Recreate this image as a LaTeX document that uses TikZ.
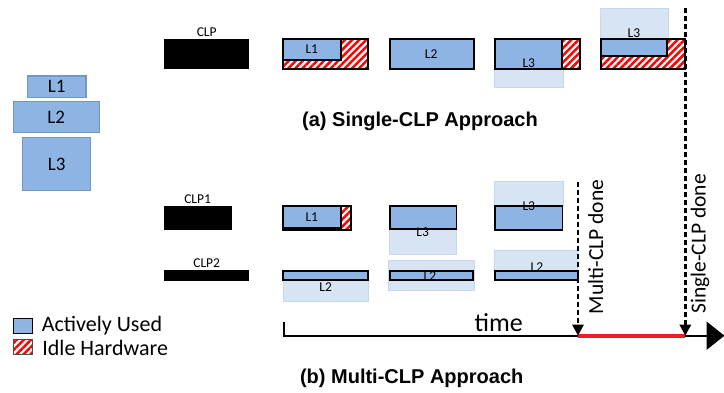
\documentclass[tikz,border=0pt]{standalone}
\usepackage{fontspec}
\setmainfont{Carlito}
\newfontfamily\titlefont{Liberation Sans}
\usetikzlibrary{arrows.meta,patterns.meta}
\definecolor{usedBlue}{HTML}{8DB4E2}
\definecolor{ghostBlue}{HTML}{D7E4F3}
\definecolor{ghostEdge}{HTML}{C6D8EE}
\definecolor{layerEdge}{HTML}{6F98C6}
\definecolor{gapRed}{HTML}{EE1C25}
\begin{document}
\begin{tikzpicture}
[x=1pt,y=-1pt,
  usedDecorate/.style={fill=usedBlue,draw=black,line width=1.8pt},
  idleDecorate/.style={preaction={fill=white},
    pattern={Lines[angle=45,distance=5pt,line width=2.5pt]},pattern color=red,
    draw=black,line width=1.8pt},
  ghostDecorate/.style={fill=ghostBlue,draw=ghostEdge,line width=0.8pt},
  clpDecorate/.style={fill=black},
  layerDecorate/.style={shape=rectangle,fill=usedBlue,draw=layerEdge,line width=1.5pt,
    font=\fontsize{19}{19}\selectfont},
  tagDecorate/.style={inner sep=0pt,font=\fontsize{13.5}{13.5}\selectfont},
  legendDecorate/.style={anchor=west,inner sep=0pt,font=\fontsize{22}{22}\selectfont},
  doneDecorate/.style={rotate=90,inner sep=0pt,font=\fontsize{21.5}{21.5}\selectfont},
  titleDecorate/.style={inner sep=0pt,font=\titlefont\bfseries\fontsize{20}{20}\selectfont},
  lineDecorate/.style={line width=2.6pt,dash pattern=on 5pt off 3pt,
    -{Triangle[length=11pt,width=11pt]}}]
\useasboundingbox (0,0) rectangle (724,392);
%% layers
\foreach \nodename/\x/\y/\w/\h/\txt in {
  layer1/56.7/86.8/58.7/21.7/L1, layer2/56.3/117/86/30.6/L2,
  layer3/56.7/164/68/53.4/L3}
{
  \node (\nodename) at (\x,\y) [layerDecorate,minimum width=\w pt,minimum height=\h pt] {\txt};
}
%% parts of a layer that wait for the next step
\foreach \xa/\ya/\xb/\yb in {
  494.1/38.7/562.9/87.3, 600.2/8/668.7/56, 389.7/206/456.7/254,
  494.1/181/562.9/206, 282.9/280/368.5/301, 388.3/260/474.3/290.7,
  494.1/250/577.5/270.7}
{
  \draw[ghostDecorate] (\xa,\ya) rectangle (\xb,\yb);
}
%% CLPs
\foreach \xa/\ya/\xb/\yb in {
  163.9/38.7/249.2/69, 163.9/206/232/230, 163.9/270/249.2/280.7}
{
  \fill[clpDecorate] (\xa,\ya) rectangle (\xb,\yb);
}
%% idle hardware
\foreach \xa/\ya/\xb/\yb in {
  282.9/38.7/368.2/69, 495.2/38.7/579.7/69, 601/38.7/685.1/69,
  282.9/206/350.6/230}
{
  \draw[idleDecorate] (\xa,\ya) rectangle (\xb,\yb);
}
%% actively used
\foreach \xa/\ya/\xb/\yb in {
  282.9/38.7/340.7/60, 389.7/38.7/473.6/69, 495.2/38.7/561.8/69,
  601/38.7/667.2/56, 282.9/206/340.7/228, 389.7/206/456.4/229.3,
  495.2/206/562.5/230, 282.9/270.7/368.2/280, 389.7/270.7/472.8/280,
  495.2/270.7/578.3/280}
{
  \draw[usedDecorate] (\xa,\ya) rectangle (\xb,\yb);
}
%% labels
\foreach \nodename/\x/\y/\txt in {
  clp/206.7/31.7/CLP, clpA/197.6/199.3/CLP1, clpB/206.7/262.7/CLP2,
  a1/311.8/49.3/L1, a2/431.1/54/L2, a3/528.8/63.3/L3, a4/633.9/33.3/L3,
  b1/311.8/217.5/L1, b2/422.7/231.7/L3, b3/528.8/206/L3,
  c1/325.7/287.3/L2, c2/430/276/L2, c3/536.9/266.7/L2}
{
  \node (\nodename) at (\x,\y) [tagDecorate] {\txt};
}
\node (titleA) at (420,121.7) [titleDecorate] {(a) Single-CLP Approach};
\node (titleB) at (411.7,378.3) [titleDecorate] {(b) Multi-CLP Approach};
%% legend
\draw[usedDecorate,line width=1.5pt] (13.3,318.3) rectangle (32.3,333.3);
\draw[idleDecorate,line width=1.5pt,draw=black!70] (13.3,339.3) rectangle (32.3,354.3);
\node (used) at (41.7,326) [legendDecorate] {Actively Used};
\node (idle) at (42.2,347.7) [legendDecorate] {Idle Hardware};
%% time axis
\coordinate (t0) at (283.6,321.7);
\coordinate (t1) at (283.6,335.7);
\coordinate (tEnd) at (724.5,335.7);
\coordinate (mTop) at (578,181.7);
\coordinate (mDone) at (578,335.7);
\coordinate (sTop) at (685.3,8);
\coordinate (sDone) at (685.3,335.7);
\draw[line width=2pt,-{Triangle[length=18pt,width=28pt]}] (t0) -- (t1) -- (tEnd);
\draw[gapRed,line width=4pt] (mDone) -- (sDone);
\draw[lineDecorate] (mTop) -- (mDone);
\draw[lineDecorate] (sTop) -- (sDone);
\node (time) at (498.7,322.3) [inner sep=0pt,font=\fontsize{26}{26}\selectfont] {time};
\node (multiDone) at (595.7,247) [doneDecorate] {Multi-CLP done};
\node (singleDone) at (700,244) [doneDecorate] {Single-CLP done};
\end{tikzpicture}
\end{document}
